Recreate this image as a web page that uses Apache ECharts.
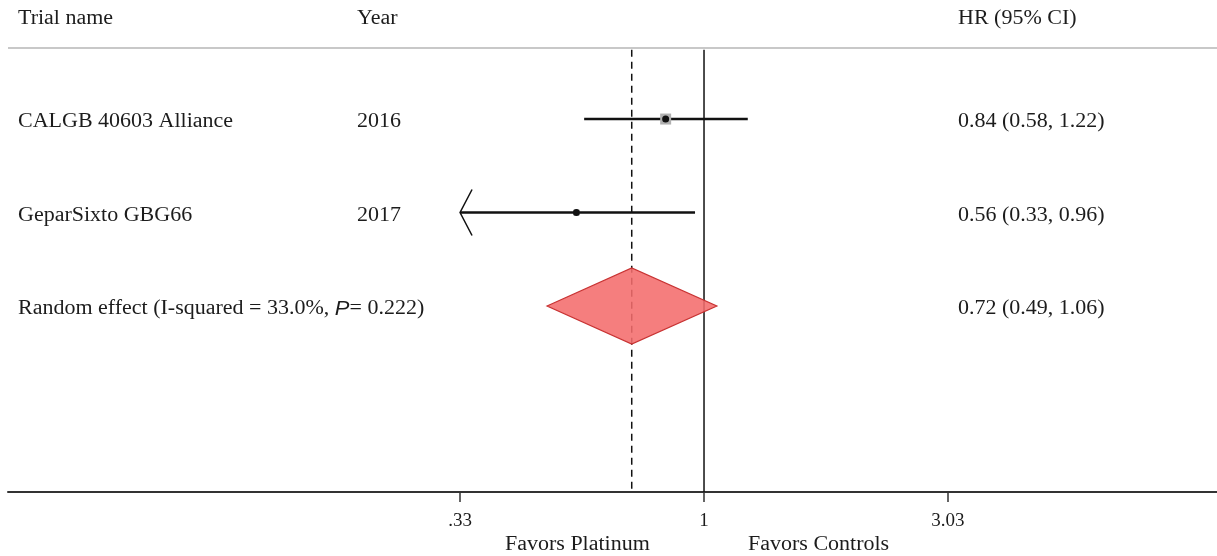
<!DOCTYPE html>
<html>
<head>
<meta charset="utf-8">
<script src="https://cdn.jsdelivr.net/npm/echarts@6/dist/echarts.min.js"></script>
<style>
  html, body { margin: 0; padding: 0; background: #fff; }
  #chart { width: 1217px; height: 556px; }
</style>
</head>
<body>
<div id="chart"></div>
<script>
// Study rows
const trialNames = ['CALGB 40603 Alliance', 'GeparSixto GBG66'];
const trialYears = ['2016', '2017'];
const trialHR = [0.84, 0.56];
const trialLower = [0.58, 0.33];
const trialUpper = [1.22, 0.96];
const trialCI = ['0.84 (0.58, 1.22)', '0.56 (0.33, 0.96)'];

// Pooled estimate
const pooledHR = [0.72, 0.49, 1.06];
const pooledCI = '0.72 (0.49, 1.06)';

// Column headers and axis
const headers = ['Trial name', 'Year', 'HR (95% CI)'];
const tickValues = [0.33, 1, 3.03];
const tickLabels = ['.33', '1', '3.03'];
const sideLabels = ['Favors Platinum', 'Favors Controls'];

const FONT = 'Liberation Serif, Times New Roman, serif';
const INK = '#1c1c1c';
const SX = 1.1;             // horizontal stretch of the text face
const COL_NAME = 18, COL_YEAR = 357, COL_HR = 958;
const ln = Math.log;
const displayMin = tickValues[0];

const chart = echarts.init(document.getElementById('chart'), null, { renderer: 'canvas' });

function txt(x, y, text, extra) {
  return Object.assign({
    type: 'text', x: x, y: y, scaleX: SX, originX: 0,
    style: { text: text, fill: INK, fontFamily: FONT, fontSize: 20, align: 'left', verticalAlign: 'middle' }
  }, extra || {});
}

const studyData = trialNames.map((n, i) => [ln(trialLower[i]), ln(trialUpper[i]), ln(trialHR[i]), i + 1, i]);
const boxSize = [11, 6];

const option = {
  animation: false,
  backgroundColor: '#fff',
  grid: { left: 8, right: 0, top: 48, bottom: 64 },
  xAxis: {
    type: 'value',
    min: ln(0.0423), max: ln(10.29),
    axisLine: { show: true, lineStyle: { color: '#333', width: 2 } },
    axisTick: { show: true, length: 10, customValues: tickValues.map(ln), lineStyle: { color: '#333', width: 1.5 } },
    axisLabel: {
      customValues: tickValues.map(ln),
      margin: 20,
      color: INK, fontFamily: FONT, fontSize: 19,
      formatter: v => {
        let best = 0;
        tickValues.forEach((t, k) => { if (Math.abs(ln(t) - v) < Math.abs(ln(tickValues[best]) - v)) best = k; });
        return tickLabels[best];
      }
    },
    splitLine: { show: false }
  },
  yAxis: { type: 'value', inverse: true, min: 0.24, max: 4.99, show: false },
  graphic: [
    { type: 'line', shape: { x1: 8, y1: 48, x2: 1217, y2: 48 }, style: { stroke: '#c8c8c8', lineWidth: 2 } },
    txt(COL_NAME, 19, headers[0]),
    txt(COL_YEAR, 19, headers[1]),
    txt(COL_HR, 19, headers[2]),
    txt(505, 545, sideLabels[0]),
    txt(748, 545, sideLabels[1])
  ],
  series: [
    {
      // reference lines: null effect and pooled estimate
      type: 'custom',
      data: [[0, 'solid'], [ln(pooledHR[0]), 'dashed']],
      renderItem: (params, api) => {
        const top = api.coord([api.value(0), 0.26]);
        const bot = api.coord([api.value(0), 4.99]);
        const dashed = params.dataIndex === 1;
        return {
          type: 'line',
          shape: { x1: top[0], y1: top[1], x2: bot[0], y2: bot[1] },
          style: { stroke: '#111', lineWidth: 1.5, lineDash: dashed ? [7, 5] : null }
        };
      },
      z: 1
    },
    {
      // study CIs with weight boxes
      type: 'custom',
      data: studyData,
      renderItem: (params, api) => {
        const i = api.value(4);
        const a = api.coord([api.value(0), api.value(3)]);
        const b = api.coord([api.value(1), api.value(3)]);
        const c = api.coord([api.value(2), api.value(3)]);
        const s = boxSize[i];
        const children = [
          { type: 'line', shape: { x1: a[0], y1: a[1], x2: b[0], y2: b[1] }, style: { stroke: '#111', lineWidth: 2.5 } },
          { type: 'rect', shape: { x: c[0] - s / 2, y: c[1] - s / 2, width: s, height: s }, style: { fill: '#b0b0b0' } },
          { type: 'circle', shape: { cx: c[0], cy: c[1], r: 3.5 }, style: { fill: '#111' } }
        ];
        if (Math.exp(api.value(0)) <= displayMin + 1e-9) {
          children.push({
            type: 'polyline',
            shape: { points: [[a[0] + 12, a[1] - 23], [a[0], a[1]], [a[0] + 12, a[1] + 23]] },
            style: { stroke: '#111', lineWidth: 1.5, fill: null }
          });
        }
        return { type: 'group', children: children };
      },
      z: 3
    },
    {
      // pooled diamond
      type: 'custom',
      data: [[ln(pooledHR[1]), ln(pooledHR[0]), ln(pooledHR[2]), 3]],
      renderItem: (params, api) => {
        const y = api.value(3);
        const l = api.coord([api.value(0), y]);
        const m = api.coord([api.value(1), y]);
        const r = api.coord([api.value(2), y]);
        const h = 38;
        return {
          type: 'polygon',
          shape: { points: [[l[0], l[1]], [m[0], m[1] - h], [r[0], r[1]], [m[0], m[1] + h]] },
          style: { fill: 'rgba(244,108,108,0.88)', stroke: '#c83232', lineWidth: 1.2 }
        };
      },
      z: 2
    },
    {
      // row text columns
      type: 'custom',
      data: [0, 1, 2].map(i => [0, i + 1, i]),
      renderItem: (params, api) => {
        const i = api.value(2);
        const y = api.coord([0, api.value(1)])[1] + 3;
        if (i < trialNames.length) {
          return { type: 'group', children: [
            txt(COL_NAME, y, trialNames[i]),
            txt(COL_YEAR, y, trialYears[i]),
            txt(COL_HR, y, trialCI[i])
          ] };
        }
        return { type: 'group', children: [
          txt(COL_NAME, y, '', {
            style: {
              text: '{a|Random effect (I-squared = 33.0%, }{p|P}{a|= 0.222)}',
              fill: INK, align: 'left', verticalAlign: 'middle',
              rich: {
                a: { fontFamily: FONT, fontSize: 20, fill: INK },
                p: { fontFamily: 'Liberation Sans, Arial, sans-serif', fontStyle: 'italic', fontSize: 20, fill: INK }
              }
            }
          }),
          txt(COL_HR, y, pooledCI)
        ] };
      },
      z: 4
    }
  ]
};

chart.setOption(option);
</script>
</body>
</html>
